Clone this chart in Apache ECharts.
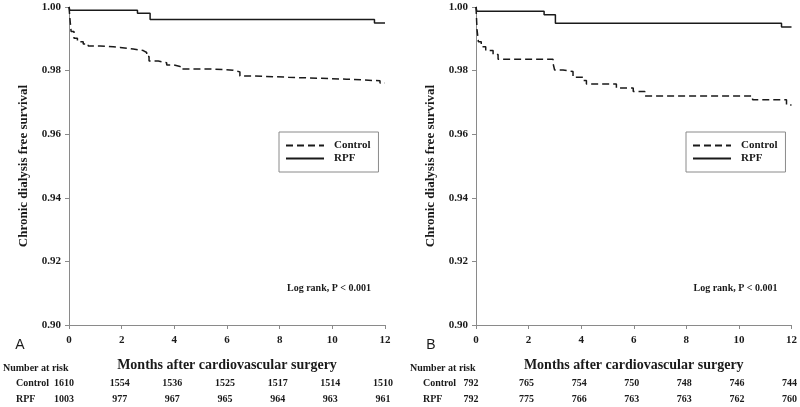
<!DOCTYPE html>
<html>
<head>
<meta charset="utf-8">
<script src="https://cdn.jsdelivr.net/npm/echarts@6/dist/echarts.min.js"></script>
<style>
  html, body { margin: 0; padding: 0; background: #fff; }
  #chart { width: 800px; height: 407px; }
</style>
</head>
<body>
<div id="chart"></div>
<script>
// survival curves: [month, survival]
const controlA = [[0, 1.0], [0.04, 0.9959], [0.08, 0.9923], [0.19, 0.9902], [0.32, 0.9891], [0.54, 0.9884],
  [0.73, 0.9877], [1.18, 0.9875], [1.68, 0.9873], [1.94, 0.9868], [2.44, 0.9863], [2.82, 0.9857],
  [2.95, 0.9844], [3.04, 0.9830], [3.39, 0.9825], [3.71, 0.9818], [3.96, 0.9813], [4.22, 0.9805],
  [5.48, 0.9801], [6.24, 0.9796], [6.49, 0.9783], [7.0, 0.9779], [8.33, 0.9773], [10.54, 0.9768],
  [11.81, 0.9761], [12, 0.9760]];
const rpfA = [[0, 1.0], [0.03, 0.999], [2.6, 0.998], [3.08, 0.9961], [11.6, 0.995], [12, 0.995]];
const controlB = [[0, 1.0], [0.04, 0.9928], [0.09, 0.9891], [0.2, 0.9875], [0.37, 0.9863], [0.65, 0.9851],
  [0.84, 0.9836], [2.93, 0.9823], [2.99, 0.9802], [3.31, 0.9797], [3.69, 0.9779], [4.07, 0.9769],
  [4.2, 0.9758], [5.34, 0.9745], [5.98, 0.9734], [6.42, 0.9720], [10.52, 0.9708], [11.81, 0.9692],
  [12, 0.9692]];
const rpfB = [[0, 1.0], [0.03, 0.9987], [2.59, 0.9976], [3.02, 0.9949], [11.62, 0.9937], [12, 0.9937]];

// number at risk table
const riskMonths = [0, 2, 4, 6, 8, 10, 12];
const controlRiskA = [1610, 1554, 1536, 1525, 1517, 1514, 1510];
const rpfRiskA = [1003, 977, 967, 965, 964, 963, 961];
const controlRiskB = [792, 765, 754, 750, 748, 746, 744];
const rpfRiskB = [792, 775, 766, 763, 763, 762, 760];

const serif = 'Liberation Serif';
const ink = '#1a1a1a';
const axisGray = '#8a8a8a';

const chart = echarts.init(document.getElementById('chart'));

const xAxisFor = (gridIndex) => ({
  type: 'value',
  gridIndex: gridIndex,
  min: 0,
  max: 12,
  interval: 2,
  name: 'Months after cardiovascular surgery',
  nameLocation: 'middle',
  nameGap: 33,
  nameTextStyle: { fontFamily: serif, fontWeight: 'bold', fontSize: 14, color: ink },
  axisLine: { lineStyle: { color: axisGray, width: 1 } },
  axisTick: { length: 4, lineStyle: { color: axisGray } },
  axisLabel: { margin: 10, fontFamily: serif, fontWeight: 'bold', fontSize: 11, color: ink },
  splitLine: { show: false }
});

const yAxisFor = (gridIndex) => ({
  type: 'value',
  gridIndex: gridIndex,
  min: 0.9,
  max: 1.0,
  interval: 0.02,
  name: 'Chronic dialysis free survival',
  nameLocation: 'middle',
  nameGap: 39,
  nameTextStyle: { fontFamily: serif, fontWeight: 'bold', fontSize: 13, color: ink },
  axisLine: { show: true, lineStyle: { color: axisGray, width: 1 } },
  axisTick: { show: true, length: 4, lineStyle: { color: axisGray } },
  axisLabel: {
    margin: 8, fontFamily: serif, fontWeight: 'bold', fontSize: 11, color: ink,
    formatter: (v) => v.toFixed(2)
  },
  splitLine: { show: false }
});

const curve = (name, data, idx, dashed) => ({
  name: name,
  type: 'line',
  step: 'end',
  xAxisIndex: idx,
  yAxisIndex: idx,
  data: data,
  symbol: 'none',
  lineStyle: { color: ink, width: 1.5, type: dashed ? [7, 4] : 'solid' },
  itemStyle: { color: ink }
});

const legendAt = (left) => ({
  left: left,
  top: 132,
  orient: 'vertical',
  selectedMode: false,
  data: ['Control', 'RPF'],
  itemWidth: 38,
  itemHeight: 10,
  itemGap: 2,
  padding: [8, 8, 8, 6],
  borderColor: axisGray,
  borderWidth: 1,
  itemStyle: { opacity: 0, borderWidth: 0 },
  textStyle: { fontFamily: serif, fontWeight: 'bold', fontSize: 11, color: ink, padding: [0, 0, 0, 5] }
});

chart.setOption({
  animation: false,
  grid: [
    { left: 69, top: 7, width: 316, height: 318 },
    { left: 476, top: 7, width: 316, height: 318 }
  ],
  xAxis: [xAxisFor(0), xAxisFor(1)],
  yAxis: [yAxisFor(0), yAxisFor(1)],
  legend: [legendAt(279), legendAt(686)],
  series: [
    curve('Control', controlA, 0, true),
    curve('RPF', rpfA, 0, false),
    curve('Control', controlB, 1, true),
    curve('RPF', rpfB, 1, false)
  ]
});

// text annotations + number-at-risk table placed through the axis scales
const txt = (x, y, text, opts) => Object.assign({
  type: 'text', x: x, y: y,
  style: Object.assign({
    text: text, fill: ink, font: 'bold 10px "' + serif + '"',
    textAlign: 'left', textVerticalAlign: 'middle'
  }, opts || {})
});

const graphics = [];
const panels = [
  { idx: 0, letter: 'A', ctrl: controlRiskA, rpf: rpfRiskA, letterX: 20 },
  { idx: 1, letter: 'B', ctrl: controlRiskB, rpf: rpfRiskB, letterX: 431 }
];
panels.forEach((p) => {
  const x0 = chart.convertToPixel({ xAxisIndex: p.idx }, 0);
  const x12 = chart.convertToPixel({ xAxisIndex: p.idx }, 12);
  const baseY = chart.convertToPixel({ yAxisIndex: p.idx }, 0.9);
  graphics.push(txt(p.letterX, baseY + 20, p.letter, { textAlign: 'center', font: '14px "Liberation Sans"' }));
  graphics.push(txt(x0 - 66, baseY + 43, 'Number at risk'));
  graphics.push(txt(x0 - 53, baseY + 58, 'Control'));
  graphics.push(txt(x0 - 53, baseY + 74, 'RPF'));
  riskMonths.forEach((m, i) => {
    const x = chart.convertToPixel({ xAxisIndex: p.idx }, m) - (i === 0 ? 5 : 2);
    graphics.push(txt(x, baseY + 58, String(p.ctrl[i]), { textAlign: 'center' }));
    graphics.push(txt(x, baseY + 74, String(p.rpf[i]), { textAlign: 'center' }));
  });
  graphics.push(txt(x12 - 98, chart.convertToPixel({ yAxisIndex: p.idx }, 0.9115), 'Log rank, P < 0.001',
    { font: 'bold 10px "' + serif + '"' }));
});

chart.setOption({ graphic: graphics });
</script>
</body>
</html>
